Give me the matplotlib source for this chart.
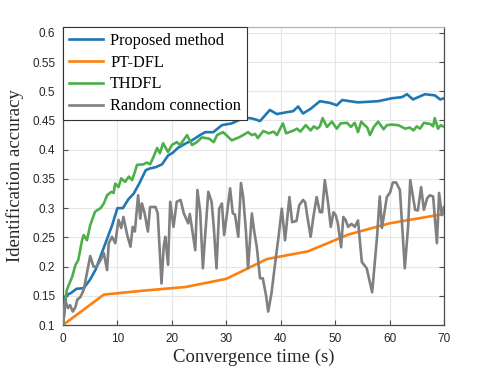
import matplotlib
matplotlib.use("Agg")
import matplotlib.pyplot as plt
import numpy as np

# ---------------- data ----------------
blue_t = [0, 0.5, 1.5, 2.5, 3.8, 5.0, 6.0, 7.0, 8.0, 9.0,
          10.0, 11.0, 12.0, 13.0, 14.0, 15.2, 16.0, 17.0, 18.2, 19.3,
          20.2, 21.1, 22.4, 23.7, 25.0, 26.1, 27.6, 29.2, 31.0, 33.1,
          34.4, 35.3, 36.2, 38.0, 39.3, 41.0, 42.3, 43.2, 44.1, 45.5,
          47.2, 49.1, 50.3, 51.3, 52.7, 54.2, 56.0, 57.9, 60.4, 62.3,
          63.2, 64.3, 66.5, 68.3, 69.3, 70.0]
blue_v = [0.1, 0.15, 0.155, 0.162, 0.163, 0.178, 0.195, 0.22, 0.245, 0.27,
          0.30, 0.30, 0.315, 0.325, 0.342, 0.365, 0.368, 0.37, 0.375, 0.39,
          0.395, 0.403, 0.41, 0.416, 0.424, 0.43, 0.43, 0.442, 0.445, 0.454,
          0.454, 0.452, 0.449, 0.468, 0.461, 0.464, 0.466, 0.474, 0.462, 0.47,
          0.483, 0.48, 0.476, 0.485, 0.483, 0.481, 0.482, 0.483, 0.488, 0.49,
          0.495, 0.486, 0.495, 0.493, 0.486, 0.488]

orange_t = [0, 7.5, 15, 22.5, 30, 37.5, 45, 52.5, 60, 67.5, 70]
orange_v = [0.1, 0.152, 0.159, 0.165, 0.179, 0.213, 0.226, 0.255, 0.274, 0.286, 0.29]

green_t = [0, 0.7, 1.7, 2.3, 2.8, 3.5, 3.8, 4.4, 5.0, 5.9,
           6.9, 7.5, 8.1, 8.9, 9.3, 9.6, 10.2, 10.7, 11.4, 12.1,
           12.7, 13.2, 13.6, 14.8, 15.4, 16.0, 16.5, 17.3, 17.8, 18.4,
           19.3, 20.0, 20.9, 21.5, 22.8, 23.7, 24.6, 25.5, 26.8, 27.7,
           28.3, 29.4, 30.0, 31.0, 32.3, 33.1, 34.0, 34.7, 35.3, 35.8,
           36.8, 37.8, 38.7, 39.3, 40.4, 41.0, 42.4, 43.0, 43.6, 44.6,
           45.5, 46.1, 46.7, 47.2, 47.7, 48.5, 49.4, 50.3, 51.0, 52.2,
           52.9, 53.6, 54.2, 54.8, 55.4, 55.9, 56.4, 57.1, 57.9, 58.9,
           59.5, 60.4, 61.6, 62.9, 63.7, 64.4, 65.0, 65.6, 66.3, 67.5,
           68.0, 68.3, 68.9, 69.4, 70.0]
green_v = [0.1, 0.16, 0.183, 0.203, 0.211, 0.245, 0.254, 0.245, 0.271, 0.294,
           0.30, 0.308, 0.322, 0.328, 0.326, 0.342, 0.336, 0.351, 0.345, 0.354,
           0.348, 0.362, 0.374, 0.375, 0.378, 0.375, 0.385, 0.403, 0.394, 0.411,
           0.396, 0.408, 0.413, 0.408, 0.425, 0.408, 0.413, 0.421, 0.419, 0.413,
           0.425, 0.43, 0.425, 0.416, 0.421, 0.425, 0.43, 0.425, 0.427, 0.42,
           0.432, 0.428, 0.431, 0.425, 0.445, 0.428, 0.433, 0.436, 0.431, 0.442,
           0.433, 0.44, 0.436, 0.44, 0.454, 0.439, 0.448, 0.436, 0.445, 0.446,
           0.439, 0.446, 0.43, 0.448, 0.442, 0.438, 0.425, 0.439, 0.448, 0.435,
           0.442, 0.443, 0.442, 0.436, 0.438, 0.433, 0.44, 0.436, 0.446, 0.444,
           0.44, 0.454, 0.436, 0.442, 0.439]

gray_t = [0, 0.4, 0.9, 1.3, 1.8, 2.3, 2.6, 3.2, 3.8, 4.4,
          5.0, 5.6, 6.2, 6.9, 7.5, 8.1, 8.4, 9.0, 9.6, 10.2,
          10.7, 11.1, 11.8, 12.4, 12.8, 13.2, 13.8, 14.2, 14.5, 15.0,
          15.6, 16.0, 17.0, 17.4, 18.1, 18.5, 18.8, 19.3, 19.7, 20.3,
          20.9, 21.6, 22.2, 23.0, 23.3, 24.3, 24.7, 25.2, 25.7, 26.1,
          26.7, 27.3, 27.7, 28.2, 28.7, 29.2, 29.6, 30.1, 30.7, 31.2,
          31.6, 32.2, 32.7, 33.1, 33.6, 34.0, 34.7, 35.1, 35.6, 36.2,
          36.7, 37.3, 37.7, 38.3, 38.9, 39.6, 40.2, 40.8, 41.6, 42.1,
          42.9, 43.4, 44.1, 44.5, 44.9, 45.5, 46.0, 46.6, 47.2, 47.6,
          48.1, 48.7, 49.2, 49.7, 50.1, 50.5, 51.1, 51.5, 51.9, 52.4,
          53.0, 53.6, 54.2, 54.9, 55.8, 56.8, 57.7, 58.2, 58.6, 59.5,
          60.1, 60.6, 61.2, 61.9, 62.8, 63.4, 63.8, 64.7, 65.2, 65.8,
          66.3, 66.9, 67.4, 68.0, 68.7, 69.1, 69.6, 70.0]
gray_v = [0.1, 0.143, 0.129, 0.134, 0.123, 0.131, 0.143, 0.148, 0.16, 0.189,
          0.218, 0.2, 0.2, 0.211, 0.223, 0.194, 0.24, 0.251, 0.24, 0.28,
          0.266, 0.285, 0.254, 0.234, 0.268, 0.26, 0.322, 0.282, 0.308, 0.291,
          0.26, 0.302, 0.302, 0.291, 0.171, 0.234, 0.251, 0.203, 0.311, 0.268,
          0.311, 0.314, 0.291, 0.274, 0.29, 0.228, 0.331, 0.294, 0.197, 0.251,
          0.328, 0.311, 0.268, 0.197, 0.299, 0.308, 0.254, 0.288, 0.334, 0.291,
          0.289, 0.251, 0.343, 0.319, 0.262, 0.197, 0.291, 0.262, 0.234, 0.18,
          0.18, 0.151, 0.123, 0.154, 0.2, 0.251, 0.299, 0.245, 0.319, 0.276,
          0.278, 0.305, 0.314, 0.31, 0.285, 0.251, 0.285, 0.319, 0.293, 0.293,
          0.348, 0.309, 0.268, 0.293, 0.288, 0.274, 0.233, 0.285, 0.28, 0.268,
          0.273, 0.268, 0.279, 0.208, 0.197, 0.156, 0.251, 0.32, 0.266, 0.319,
          0.327, 0.344, 0.344, 0.331, 0.197, 0.268, 0.348, 0.297, 0.296, 0.336,
          0.297, 0.317, 0.322, 0.32, 0.24, 0.326, 0.288, 0.302]

series_labels = ["Proposed method", "PT-DFL", "THDFL", "Random connection"]
x_ticks = [0, 10, 20, 30, 40, 50, 60, 70]
y_ticks = [0.1, 0.15, 0.2, 0.25, 0.3, 0.35, 0.4, 0.45, 0.5, 0.55, 0.6]
y_tick_labels = ["0.1", "0.15", "0.2", "0.25", "0.3", "0.35", "0.4", "0.45",
                 "0.5", "0.55", "0.6"]

# ---------------- style ----------------
colors = ["#1f77b4", "#ff7f0e", "#4daf4a", "#808080"]
serif = "Liberation Serif"
sans = "Liberation Sans"
spine_c = "#4d4d4d"

fig = plt.figure(figsize=(4.91, 3.68), dpi=100)
ax = fig.add_axes([63 / 491, 43 / 368, 381 / 491, 298 / 368])

lw = 1.9
ax.plot(blue_t, blue_v, color=colors[0], lw=lw, label=series_labels[0], zorder=3)
ax.plot(orange_t, orange_v, color=colors[1], lw=lw, label=series_labels[1], zorder=3)
ax.plot(green_t, green_v, color=colors[2], lw=lw, label=series_labels[2], zorder=3)
ax.plot(gray_t, gray_v, color=colors[3], lw=lw, label=series_labels[3], zorder=3)

ax.set_xlim(0, 70)
ax.set_ylim(0.1, 0.61)
ax.set_xticks(x_ticks)
ax.set_yticks(y_ticks)
ax.set_yticklabels(y_tick_labels)
ax.grid(True, color="#e6e6e6", lw=0.8, zorder=0)
ax.set_axisbelow(True)

ax.tick_params(direction="in", length=3.5, width=0.8, color=spine_c,
               labelcolor="#262626", labelsize=8.5, pad=5.5,
               right=True, top=False)
for lab in ax.get_xticklabels() + ax.get_yticklabels():
    lab.set_fontfamily(sans)

for side in ["left", "bottom", "right"]:
    ax.spines[side].set_color(spine_c)
    ax.spines[side].set_linewidth(0.9)
ax.spines["top"].set_color("#b3b3b3")
ax.spines["top"].set_linewidth(0.9)

ax.set_xlabel("Convergence time (s)", fontfamily=serif, fontsize=13.5,
              color="#262626", labelpad=3)
ax.set_ylabel("Identification accuracy", fontfamily=serif, fontsize=13.5,
              color="#262626", labelpad=6)

leg = ax.legend(loc="upper left", bbox_to_anchor=(0, 1), borderaxespad=0,
                prop={"family": serif, "size": 11.7}, frameon=True,
                fancybox=False, framealpha=1, edgecolor="#333333",
                handlelength=2.1, handletextpad=0.45, labelspacing=0.36,
                borderpad=0.35)
leg.get_frame().set_linewidth(0.8)
leg.set_zorder(5)

fig.savefig("out.png", dpi=100)
